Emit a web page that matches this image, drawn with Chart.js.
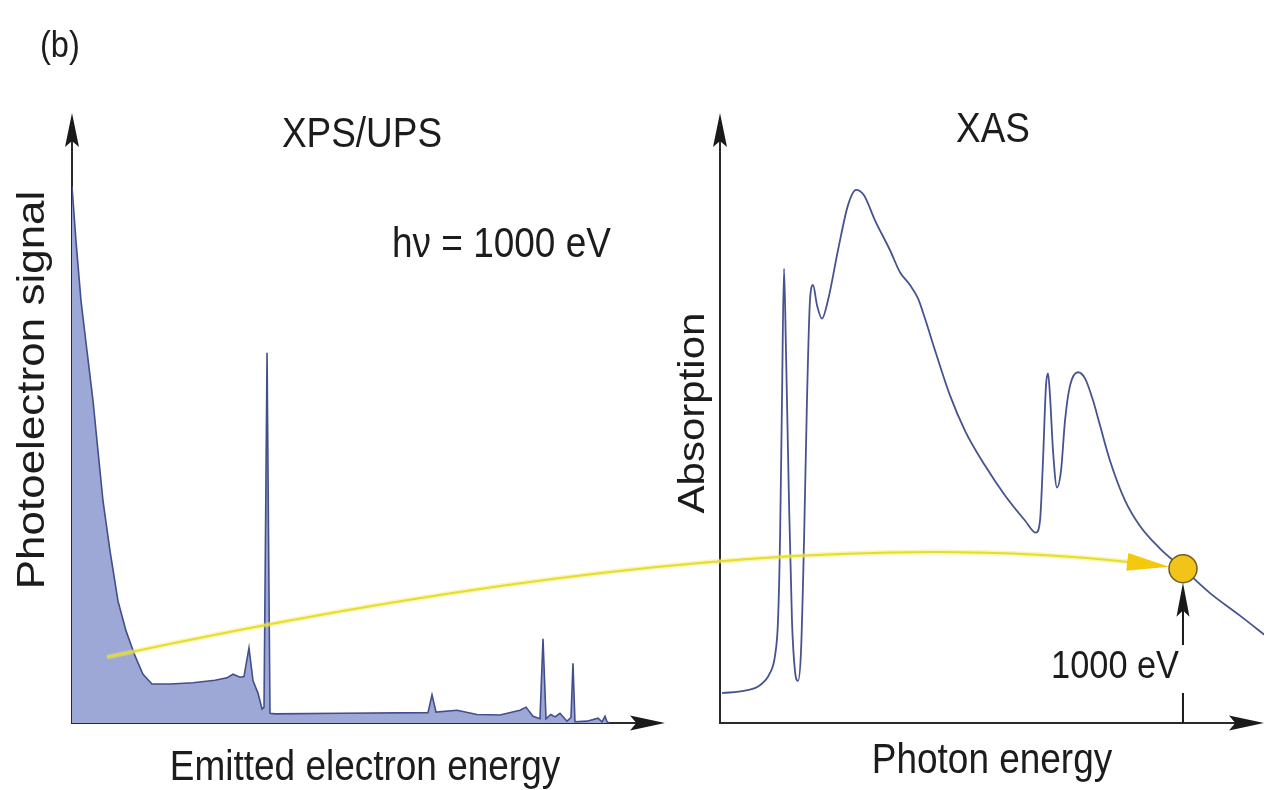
<!DOCTYPE html>
<html>
<head>
<meta charset="utf-8">
<title>XPS/UPS and XAS</title>
<script src="https://cdn.jsdelivr.net/npm/chart.js@4.4.1/dist/chart.umd.min.js"></script>
<style>
  html, body { margin: 0; padding: 0; background: #fff; }
  #wrap { position: relative; width: 1271px; height: 790px; }
</style>
</head>
<body>
<div id="wrap"><canvas id="spectra" width="1271" height="790"></canvas></div>
<script>
// XPS/UPS spectrum: kinetic energy of the emitted electrons (eV) and signal (a.u.)
const xpsEnergy = [0, 7.4, 16.7, 27.8, 39.0, 48.2, 57.5, 70.5, 85.3, 100.2, 116.9, 131.7, 148.4,
  181.8, 224.5, 265.3, 287.5, 298.7, 311.6, 319.0, 328.3, 335.8, 345.0, 352.5, 356.2, 361.8, 367.3,
  376.6, 500, 660.4, 667.8, 675.2, 714.2, 751.3, 793.9, 831.0, 842.2, 855.1, 868.1, 873.7, 879.3,
  888.0, 895.9, 905.2, 918.2, 925.6, 929.3, 933.0, 955.3, 975.7, 983.1, 988.7, 992.4, 996.0];
const xpsSignal = [88.0, 79.0, 69.2, 61.0, 52.8, 44.6, 36.4, 28.2, 20.0, 15.1, 11.0, 8.0, 6.4,
  6.4, 6.6, 7.0, 7.4, 8.0, 7.5, 7.6, 12.3, 6.9, 4.9, 2.3, 2.6, 60.7, 1.6,
  1.5, 1.6, 1.7, 4.6, 1.8, 2.1, 1.4, 1.3, 2.1, 2.6, 1.1, 0.7, 13.8, 0.7,
  1.4, 1.0, 1.6, 0.3, 0.9, 9.8, 0.2, 0.3, 0.8, 0.2, 1.1, 0.2, 0];

// XAS spectrum: photon energy (eV) and absorption (a.u.)
const xasEnergy = [203.5, 243.2, 269.1, 286.4, 295.0, 300.2, 303.7, 307.1, 310.6, 314.0, 319.2,
  324.4, 329.6, 334.8, 340.0, 345.2, 350.3, 355.5, 360.7, 367.6, 376.3, 386.6, 403.9, 421.2, 435.0,
  448.8, 467.8, 493.8, 511.0, 528.3, 542.1, 554.2, 571.5, 597.4, 623.4, 657.9, 692.5, 727.0, 746.0,
  753.0, 758.1, 763.3, 766.8, 770.2, 775.4, 782.3, 789.3, 796.2, 804.8, 818.6, 830.7, 844.5, 856.6,
  873.9, 899.8, 925.7, 960.3, 1000, 1046.7, 1098.5, 1146.9];
const xasAbsorption = [4.9, 5.3, 6.2, 8.2, 11.0, 16.7, 29.9, 52.9, 74.5, 61.1, 36.5,
  16.7, 8.5, 6.9, 11.8, 29.9, 52.9, 69.3, 71.8, 68.5, 66.3, 69.3, 77.5, 84.9, 87.4,
  86.5, 82.4, 77.5, 73.9, 71.8, 69.6, 66.3, 61.1, 53.7, 47.9, 42.2, 37.3, 33.2, 31.2,
  33.2, 43.0, 55.3, 57.3, 53.7, 44.7, 38.6, 41.4, 49.6, 55.3, 57.5, 56.5, 52.9, 48.8,
  43.0, 36.5, 32.3, 28.6, 25.3, 21.3, 17.6, 14.0];

// excitation energy, marked on the XAS curve
const photonEnergy = 1000;
const markerAbsorption = xasAbsorption[xasEnergy.indexOf(photonEnergy)];

// where the yellow arrow leaves the XPS panel, and its bend (XAS units)
const arrowStart = { x: 65, y: 10.8 };
const arrowBend = { x: 252, y: 33.5 };

// pixel boxes of the two panels
const panels = [
  { x: 'xKE', y: 'ySig', left: 72, right: 665, top: 113, bottom: 723 },
  { x: 'xHv', y: 'yAbs', left: 720, right: 1264, top: 113, bottom: 723 }
];

const FONT = '"Liberation Sans", Arial, Helvetica, sans-serif';
const INK = '#1c1c1c';
const SQUEEZE = 0.88;

function text(ctx, str, x, y, size, align, vertical) {
  ctx.save();
  ctx.translate(x, y);
  ctx.scale(SQUEEZE, 1);
  if (vertical) ctx.rotate(-Math.PI / 2);
  ctx.font = size + 'px ' + FONT;
  ctx.textAlign = align;
  ctx.textBaseline = 'alphabetic';
  ctx.fillStyle = INK;
  ctx.fillText(str, 0, 0);
  ctx.restore();
}

// filled arrow head with a slight notch, tip at (x, y) pointing along angle a
function head(ctx, x, y, a, len, half, color) {
  ctx.save();
  ctx.translate(x, y);
  ctx.rotate(a);
  ctx.beginPath();
  ctx.moveTo(0, 0);
  ctx.lineTo(-len, -half);
  ctx.lineTo(-len * 0.82, 0);
  ctx.lineTo(-len, half);
  ctx.closePath();
  ctx.fillStyle = color;
  ctx.fill();
  ctx.restore();
}

const layoutPanels = {
  id: 'layoutPanels',
  afterLayout(chart) {
    panels.forEach(p => {
      const xs = chart.scales[p.x], ys = chart.scales[p.y];
      xs.left = p.left; xs.right = p.right; xs.width = p.right - p.left;
      ys.top = p.top; ys.bottom = p.bottom; ys.height = p.bottom - p.top;
      xs.configure();
      ys.configure();
    });
  }
};

const decorations = {
  id: 'decorations',
  beforeDatasetsDraw(chart) {
    const ctx = chart.ctx;
    // axes with arrow heads
    panels.forEach(p => {
      ctx.save();
      ctx.strokeStyle = '#2a2a2a';
      ctx.lineWidth = 2;
      ctx.beginPath();
      ctx.moveTo(p.left, p.top + 20);
      ctx.lineTo(p.left, p.bottom);
      ctx.lineTo(p.right - 20, p.bottom);
      ctx.stroke();
      ctx.restore();
      head(ctx, p.left, p.top, -Math.PI / 2, 34, 7, '#1a1a1a');
      head(ctx, p.right, p.bottom, 0, 35, 7.5, '#1a1a1a');
    });

    text(ctx, '(b)', 40, 57, 37, 'left');
    text(ctx, 'XPS/UPS', 362, 147, 42, 'center');
    text(ctx, 'h\u03bd = 1000 eV', 392, 257, 42, 'left');
    text(ctx, 'XAS', 993, 142, 42, 'center');
    text(ctx, 'Photoelectron signal', 44, 390, 44, 'center', true);
    text(ctx, 'Absorption', 704, 413, 42, 'center', true);
    text(ctx, 'Emitted electron energy', 365, 780, 42, 'center');
    text(ctx, 'Photon energy', 992, 773, 42, 'center');
  },
  beforeDatasetDraw(chart, args) {
    // the marker dataset is drawn last; put the arrows just underneath it
    if (args.index !== 0) return;
    const ctx = chart.ctx;
    const sKE = chart.scales.xKE, sSig = chart.scales.ySig;
    const sHv = chart.scales.xHv, sAbs = chart.scales.yAbs;
    const r = 14;
    const mx = sHv.getPixelForValue(photonEnergy);
    const my = sAbs.getPixelForValue(markerAbsorption);

    // yellow arrow from the XPS spectrum to the XAS point
    const x0 = sKE.getPixelForValue(arrowStart.x), y0 = sSig.getPixelForValue(arrowStart.y);
    const cx = sHv.getPixelForValue(arrowBend.x), cy = sAbs.getPixelForValue(arrowBend.y);
    const tipX = mx - r, tipY = my - 2;
    const a = Math.atan2(tipY - cy, tipX - cx);
    const hl = 42;
    const bx = tipX - hl * 0.85 * Math.cos(a), by = tipY - hl * 0.85 * Math.sin(a);
    ctx.save();
    ctx.strokeStyle = 'rgba(240, 232, 90, 0.45)';
    ctx.lineWidth = 5;
    ctx.beginPath();
    ctx.moveTo(x0, y0);
    ctx.quadraticCurveTo(cx, cy, bx, by);
    ctx.stroke();
    ctx.strokeStyle = '#e6dc2e';
    ctx.lineWidth = 2;
    ctx.stroke();
    ctx.restore();
    ctx.save();
    ctx.translate(tipX, tipY);
    ctx.rotate(a);
    ctx.beginPath();
    ctx.moveTo(0, 0);
    ctx.lineTo(-hl, -9);
    ctx.lineTo(-hl, 9);
    ctx.closePath();
    ctx.fillStyle = '#f4c80c';
    ctx.fill();
    ctx.restore();

    // black arrow from the energy axis up to the marker, broken round its label
    const base = sAbs.getPixelForValue(0);
    const labelY = 678;
    ctx.save();
    ctx.strokeStyle = '#1a1a1a';
    ctx.lineWidth = 2;
    ctx.beginPath();
    ctx.moveTo(mx, base);
    ctx.lineTo(mx, labelY + 15);
    ctx.moveTo(mx, labelY - 33);
    ctx.lineTo(mx, my + r + 20);
    ctx.stroke();
    ctx.restore();
    head(ctx, mx, my + r, -Math.PI / 2, 34, 6.5, '#1a1a1a');
    text(ctx, '1000 eV', mx - 4, labelY, 39, 'right');
  }
};

new Chart(document.getElementById('spectra'), {
  type: 'line',
  data: {
    datasets: [
      {
        type: 'scatter',
        label: 'h\u03bd',
        data: [{ x: photonEnergy, y: markerAbsorption }],
        xAxisID: 'xHv',
        yAxisID: 'yAbs',
        pointRadius: 14,
        pointBackgroundColor: '#f2c318',
        pointBorderColor: '#6f5d22',
        pointBorderWidth: 1.5
      },
      {
        label: 'XAS',
        data: xasEnergy.map((x, i) => ({ x, y: xasAbsorption[i] })),
        xAxisID: 'xHv',
        yAxisID: 'yAbs',
        borderColor: '#46538f',
        borderWidth: 1.8,
        pointRadius: 0,
        fill: false,
        cubicInterpolationMode: 'monotone'
      },
      {
        label: 'XPS/UPS',
        data: xpsEnergy.map((x, i) => ({ x, y: xpsSignal[i] })),
        xAxisID: 'xKE',
        yAxisID: 'ySig',
        borderColor: '#434e8c',
        borderWidth: 1.6,
        backgroundColor: '#9ea8d6',
        pointRadius: 0,
        tension: 0,
        fill: 'origin'
      }
    ]
  },
  options: {
    responsive: false,
    animation: false,
    events: [],
    layout: { padding: 0 },
    plugins: { legend: { display: false }, tooltip: { enabled: false } },
    scales: {
      xKE: { type: 'linear', axis: 'x', position: 'bottom', min: 0, max: 1100, display: false },
      ySig: { type: 'linear', axis: 'y', position: 'left', min: 0, max: 100, display: false },
      xHv: { type: 'linear', axis: 'x', position: 'bottom', min: 200, max: 1140, display: false },
      yAbs: { type: 'linear', axis: 'y', position: 'left', min: 0, max: 100, display: false }
    }
  },
  plugins: [layoutPanels, decorations]
});
</script>
</body>
</html>
